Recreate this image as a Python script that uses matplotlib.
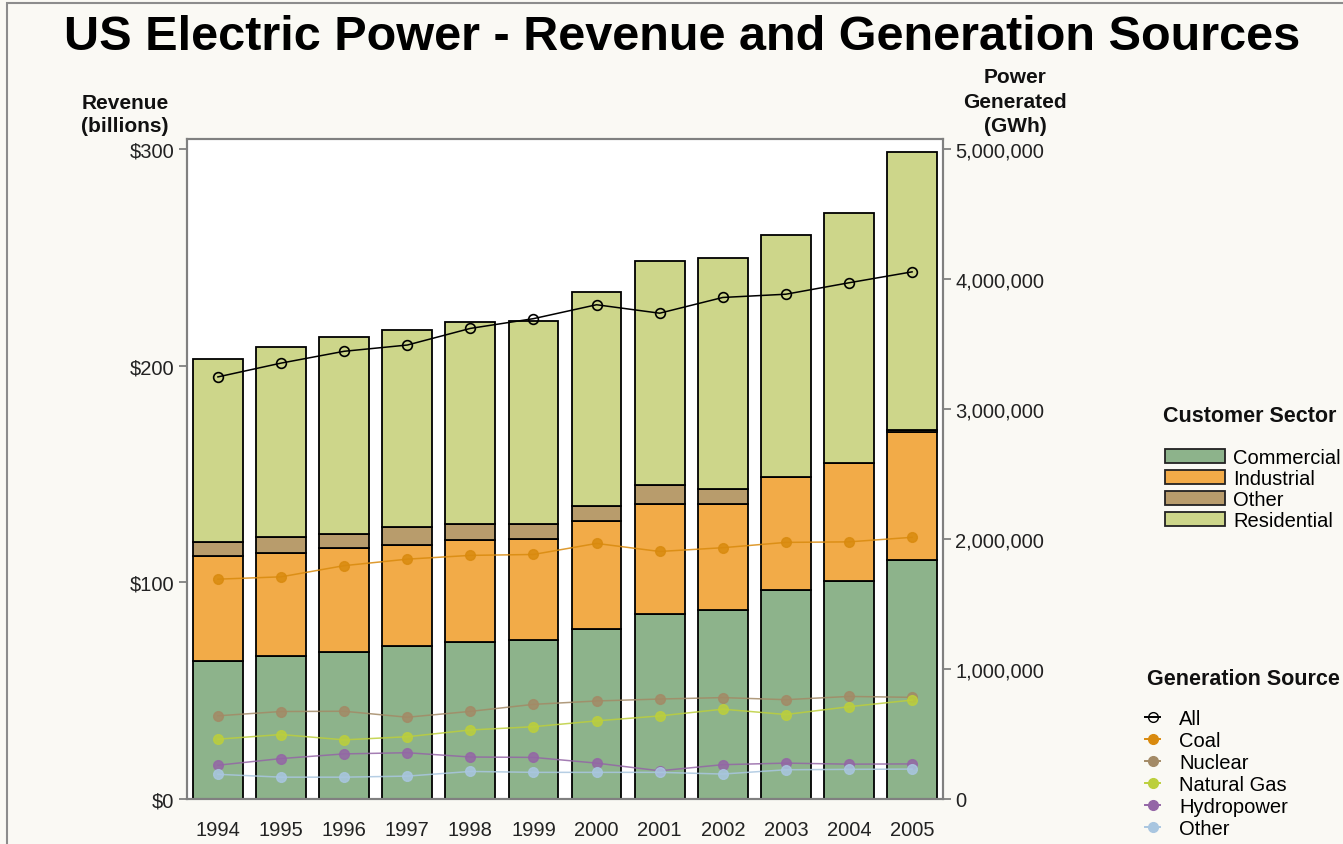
import matplotlib
matplotlib.use("Agg")
import matplotlib.pyplot as plt
import numpy as np
from matplotlib.patches import Rectangle, Patch
from matplotlib.lines import Line2D
from matplotlib.legend_handler import HandlerLine2D
from matplotlib.ticker import FuncFormatter

plt.rcParams['font.family'] = ['Liberation Sans', 'DejaVu Sans']

years = ['1994', '1995', '1996', '1997', '1998', '1999',
         '2000', '2001', '2002', '2003', '2004', '2005']

# revenue, $ billions (stacked)
commercial = [63.8, 66.1, 67.7, 70.7, 72.3, 73.4, 78.4, 85.6, 87.0, 96.3, 100.8, 110.3]
industrial = [48.3, 47.6, 48.3, 46.7, 47.4, 46.6, 49.7, 50.4, 49.0, 52.3, 54.3, 59.2]
other_rev = [6.4, 7.1, 6.3, 8.1, 7.2, 6.9, 7.2, 8.9, 7.2, 0.0, 0.0, 0.6]
residential = [84.5, 87.6, 90.9, 90.8, 93.2, 93.5, 98.7, 103.2, 106.5, 111.8, 115.3, 128.3]

# power generated, GWh
gen_all = [3247000, 3353000, 3444000, 3492000, 3620000, 3695000,
           3802000, 3737000, 3858000, 3883000, 3971000, 4055000]
gen_coal = [1691000, 1709000, 1795000, 1845000, 1874000, 1881000,
            1966000, 1904000, 1933000, 1974000, 1978000, 2013000]
gen_nuclear = [640000, 673000, 675000, 629000, 674000, 728000,
               754000, 769000, 780000, 764000, 789000, 782000]
gen_gas = [460000, 496000, 455000, 479000, 531000, 556000,
           601000, 639000, 691000, 650000, 710000, 761000]
gen_hydro = [260000, 311000, 347000, 356000, 323000, 320000,
             276000, 217000, 264000, 276000, 268000, 270000]
gen_other = [190000, 168000, 168000, 176000, 212000, 205000,
             205000, 205000, 192000, 225000, 228000, 230000]

sector_names = ['Commercial', 'Industrial', 'Other', 'Residential']
sector_colors = ['#8DB38B', '#F2AB48', '#B89C6C', '#CDD68A']
source_names = ['All', 'Coal', 'Nuclear', 'Natural Gas', 'Hydropower', 'Other']
source_colors = ['black', '#D98A0E', '#A38A66', '#BCCF3C', '#9466A6', '#A9C6E0']


# legend line with the marker sitting at the right end of the stub
class EndMarker(HandlerLine2D):
    def get_xdata(self, legend, xdescent, ydescent, width, height, fontsize):
        xd = np.array([-xdescent, -xdescent + width])
        return xd, np.array([-xdescent + width])


bg = '#FAF9F4'
W, H = 1343, 845
fig = plt.figure(figsize=(W / 100, H / 100), dpi=100, facecolor=bg)

# outer frame
fig.patches.append(Rectangle((7 / W, -0.1), 1.2, 1.1 - 4 / H, transform=fig.transFigure,
                             fill=False, edgecolor='#8C8C8C', lw=1.5))

ax = fig.add_axes([187 / W, 45 / H, 756 / W, 660 / H])
ax.set_facecolor('white')

x = np.arange(len(years))
bottom = np.zeros(len(years))
for vals, col in zip([commercial, industrial, other_rev, residential], sector_colors):
    ax.bar(x, vals, width=0.79, bottom=bottom, color=col, edgecolor='black', lw=1.3, zorder=2)
    bottom += np.array(vals)

ax.set_xlim(-0.49, 11.49)
ax.set_ylim(0, 304.6)
ax.set_yticks([0, 100, 200, 300])
ax.yaxis.set_major_formatter(FuncFormatter(lambda v, p: '$%d' % v))
ax.set_xticks(x)
ax.set_xticklabels(years)
ax.tick_params(axis='x', length=0, pad=15, labelsize=14.5, labelcolor='#222222')
ax.tick_params(axis='y', length=6, width=1.2, color='#777777', pad=3,
               labelsize=14.5, labelcolor='#222222', direction='out')
for s in ax.spines.values():
    s.set_color('#808080')
    s.set_linewidth(1.5)

ax2 = ax.twinx()
ax2.set_ylim(0, 5077000)
ax2.set_yticks([0, 1000000, 2000000, 3000000, 4000000, 5000000])
ax2.yaxis.set_major_formatter(FuncFormatter(lambda v, p: '{:,.0f}'.format(v)))
ax2.tick_params(axis='y', length=6, width=1.2, color='#777777', pad=3,
                labelsize=14.5, labelcolor='#222222', direction='out')
for s in ax2.spines.values():
    s.set_color('#808080')
    s.set_linewidth(1.5)

series = [gen_all, gen_coal, gen_nuclear, gen_gas, gen_hydro, gen_other]
for i, (vals, col) in enumerate(zip(series, source_colors)):
    if i == 0:
        ax2.plot(x, vals, color=col, lw=1.1, marker='o', ms=7,
                 mfc='none', mec=col, mew=1.2, zorder=5)
    else:
        ax2.plot(x, vals, color=col, lw=1.1, marker='o', ms=7,
                 mfc=col, mec=col, alpha=0.85, zorder=4)

# axis titles
fig.text(125 / W, 1 - 115 / H, 'Revenue\n(billions)', ha='center', va='center',
         fontsize=15, fontweight='bold', color='#111111', linespacing=1.3)
fig.text(1015 / W, 1 - 102 / H, 'Power\nGenerated\n(GWh)', ha='center', va='center',
         fontsize=15, fontweight='bold', color='#111111', linespacing=1.35)

fig.text(0.508, 1 - 37 / H, 'US Electric Power - Revenue and Generation Sources',
         ha='center', va='center', fontsize=35, fontweight='bold', color='black')

# legends
fig.text(1163 / W, 1 - 417 / H, 'Customer Sector', ha='left', va='center',
         fontsize=15.5, fontweight='bold', color='#111111')
h1 = [Patch(facecolor=c, edgecolor='#222222', lw=1.3) for c in sector_colors]
leg1 = fig.legend(h1, sector_names, loc='upper left', bbox_to_anchor=(1165 / W, 1 - 449 / H),
                  frameon=False, fontsize=14.5, handlelength=3.0, handleheight=0.7,
                  handletextpad=0.4, labelspacing=0.1, borderpad=0, borderaxespad=0)

fig.text(1147 / W, 1 - 680 / H, 'Generation Source', ha='left', va='center',
         fontsize=15.5, fontweight='bold', color='#111111')
h2 = []
for i, c in enumerate(source_colors):
    if i == 0:
        h2.append(Line2D([], [], color=c, lw=1.4, marker='o', ms=7, mfc='none', mec=c))
    else:
        h2.append(Line2D([], [], color=c, lw=1.4, marker='o', ms=7, mfc=c, mec=c))
leg2 = fig.legend(h2, source_names, loc='upper left', bbox_to_anchor=(1145 / W, 1 - 710 / H),
                  frameon=False, fontsize=14.5, handlelength=0.75, numpoints=1,
                  handler_map={Line2D: EndMarker()},
                  handletextpad=0.95, labelspacing=0.15, borderpad=0, borderaxespad=0)

fig.savefig('out.png', dpi=100, facecolor=bg)
